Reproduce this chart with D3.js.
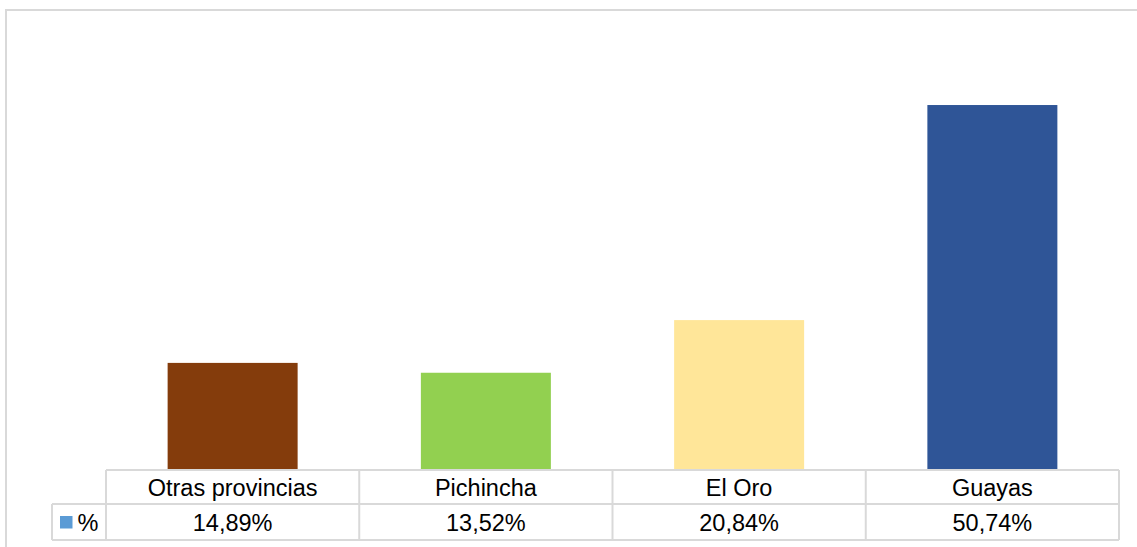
<!DOCTYPE html>
<html>
<head>
<meta charset="utf-8">
<script src="https://cdn.jsdelivr.net/npm/d3@7"></script>
<style>
  html, body { margin: 0; padding: 0; background: #fff; overflow: hidden; }
  svg { display: block; }
  text { font-family: "Liberation Sans", Arial, sans-serif; fill: #000; }
</style>
</head>
<body>
<svg id="chart" width="1137" height="547"></svg>
<script>
const categories = ["Otras provincias", "Pichincha", "El Oro", "Guayas"];
const values = [14.89, 13.52, 20.84, 50.74];
const valueLabels = ["14,89%", "13,52%", "20,84%", "50,74%"];
const barColors = ["#843C0C", "#92D050", "#FFE699", "#2F5597"];
const seriesName = "%";
const legendColor = "#5B9BD5";

const W = 1137, H = 547;
const svg = d3.select("#chart");
const grid = "#D9D9D9";

// outer chart frame
svg.append("rect")
  .attr("x", 6).attr("y", 10)
  .attr("width", W + 20).attr("height", H + 20)
  .attr("fill", "none").attr("stroke", grid).attr("stroke-width", 2);

const plotLeft = 106, plotRight = 1119;
const baseY = 470;
const row1Bottom = 504, row2Bottom = 540;
const legendLeft = 52;

const x = d3.scaleBand().domain(categories).range([plotLeft, plotRight]).paddingInner(0).paddingOuter(0);
const y = d3.scaleLinear().domain([0, 60]).range([baseY, baseY - 60 * 7.193]);

const barW = 130;
svg.append("g").selectAll("rect").data(categories).join("rect")
  .attr("x", d => x(d) + x.bandwidth() / 2 - barW / 2)
  .attr("width", barW)
  .attr("y", (d, i) => y(values[i]))
  .attr("height", (d, i) => baseY - y(values[i]))
  .attr("fill", (d, i) => barColors[i]);

// data table
const tg = svg.append("g").attr("stroke", grid).attr("stroke-width", 2).attr("fill", "none");
tg.append("line").attr("x1", plotLeft).attr("x2", plotRight).attr("y1", baseY).attr("y2", baseY);
tg.append("line").attr("x1", legendLeft).attr("x2", plotRight).attr("y1", row1Bottom).attr("y2", row1Bottom);
tg.append("line").attr("x1", legendLeft).attr("x2", plotRight).attr("y1", row2Bottom).attr("y2", row2Bottom);
tg.append("line").attr("x1", legendLeft).attr("x2", legendLeft).attr("y1", row1Bottom).attr("y2", row2Bottom);
const bounds = categories.map(d => x(d)).concat([plotRight]);
tg.selectAll("line.v").data(bounds).join("line").attr("class", "v")
  .attr("x1", d => d).attr("x2", d => d).attr("y1", baseY).attr("y2", row2Bottom);

const fs = 23.5;
svg.append("g").selectAll("text").data(categories).join("text")
  .attr("x", d => x(d) + x.bandwidth() / 2)
  .attr("y", 495.5)
  .attr("text-anchor", "middle")
  .attr("font-size", fs)
  .text(d => d);

svg.append("g").selectAll("text").data(valueLabels).join("text")
  .attr("x", (d, i) => x(categories[i]) + x.bandwidth() / 2)
  .attr("y", 531)
  .attr("text-anchor", "middle")
  .attr("font-size", fs)
  .text(d => d);

// legend key
svg.append("rect").attr("x", 60).attr("y", 516).attr("width", 12.5).attr("height", 12.5).attr("fill", legendColor);
svg.append("text").attr("x", 77.5).attr("y", 531).attr("font-size", fs).text(seriesName);
</script>
</body>
</html>
